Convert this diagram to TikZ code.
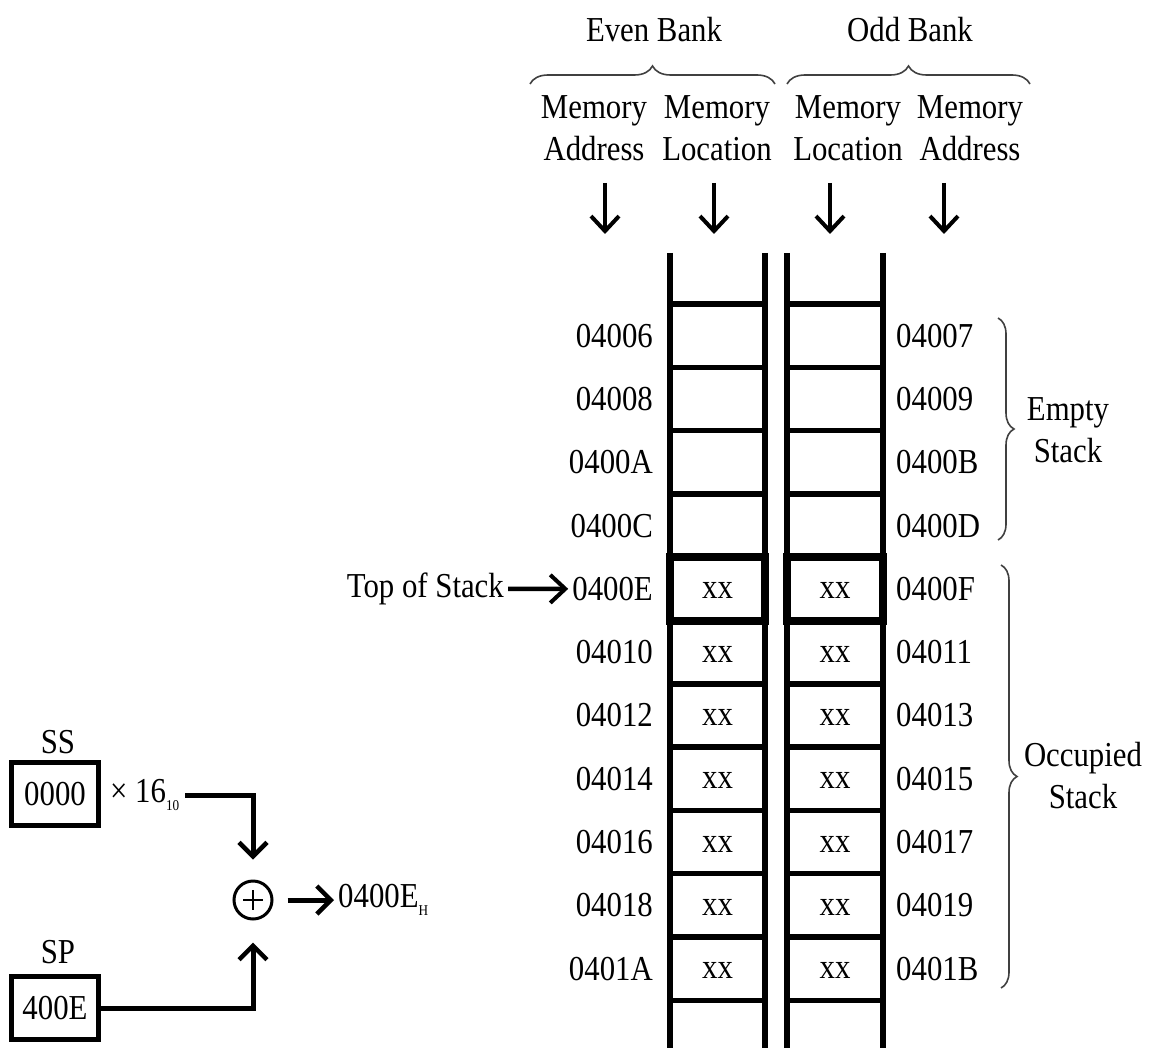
\documentclass[tikz,border=0pt]{standalone}
\usepackage{fontspec}
\setmainfont{Liberation Serif}[FakeStretch=0.88]
\usetikzlibrary{arrows.meta,decorations.pathreplacing,calc}
\begin{document}
\begin{tikzpicture}[x=1pt,y=-1pt,
  txt/.style={font=\fontsize{35}{42}\selectfont, inner sep=0pt, align=center},
  ladder/.style={line width=5.5pt},
  hdrarr/.style={line width=4.5pt, -{Straight Barb[length=15pt,width=28pt,line width=4pt]}},
  conn/.style={line width=5pt, -{Straight Barb[length=14pt,width=28pt,line width=4.5pt]}},
  brc/.style={decorate, decoration={brace, amplitude=18pt}, line width=1.6pt, draw=black!75},
  sub/.style={},
  regbox/.style={draw, line width=5pt, minimum width=87pt, minimum height=63pt, inner sep=0pt, font=\fontsize{35}{38}\selectfont}
]
\useasboundingbox (0,0) rectangle (1174,1048);

% headers
\node[txt] (even) at (654,30) {Even Bank};
\node[txt] (odd) at (910,30) {Odd Bank};
\draw[brc] (530,84) -- (775,84);
\draw[brc] (787,84) -- (1030,84);
\node[txt] (h1) at (594,128) {Memory\\Address};
\node[txt] (h2) at (717,128) {Memory\\Location};
\node[txt] (h3) at (848,128) {Memory\\Location};
\node[txt] (h4) at (970,128) {Memory\\Address};

\foreach \n/\x in {1/605,2/714,3/830,4/944}{
  \coordinate (as\n) at (\x,183);
  \coordinate (ae\n) at (\x,234);
  \draw[hdrarr] (as\n) -- (ae\n);
}

% ladder
\foreach \x in {670,765,787,883}{
  \draw[ladder] (\x,253) -- (\x,1050);
}
\foreach \k in {0,...,11}{
  \pgfmathsetmacro{\yy}{304+63.3*\k}
  \draw[ladder] (670,\yy) -- (765,\yy);
  \draw[ladder] (787,\yy) -- (883,\yy);
}
% highlighted top-of-stack cells
\draw[line width=8pt] (670,557.2) rectangle (765,620.5);
\draw[line width=8pt] (787,557.2) rectangle (883,620.5);

% address labels and cells
\foreach \k/\la/\ra/\c in {0/04006/04007/,1/04008/04009/,2/0400A/0400B/,3/0400C/0400D/,
  4/0400E/0400F/xx,5/04010/04011/xx,6/04012/04013/xx,7/04014/04015/xx,
  8/04016/04017/xx,9/04018/04019/xx,10/0401A/0401B/xx}{
  \pgfmathsetmacro{\yc}{304+63.3*(\k+0.5)}
  \node[txt, anchor=east] (l\k) at (653,\yc) {\la};
  \node[txt, anchor=west] (r\k) at (896,\yc) {\ra};
  \node[txt] (cl\k) at (717.5,\yc+2) {\c};
  \node[txt] (cr\k) at (835,\yc+2) {\c};
}

% top of stack
\node[txt, anchor=east] (tos) at (504,588.9) {Top of Stack};
\draw[hdrarr, shorten <=4pt, shorten >=4pt] (tos.east) -- (l4.west);

% right braces
\draw[brc, decoration={amplitude=16pt}] (998,318) -- (998,540);
\node[txt] (empty) at (1068,430) {Empty\\Stack};
\draw[brc, decoration={amplitude=16pt}] (1001,565) -- (1001,988);
\node[txt] (occ) at (1083,776) {Occupied\\Stack};

% address computation
\node[txt] (sslbl) at (58,742) {SS};
\node[regbox] (ss) at (55,794) {0000};
\node[txt, anchor=west] (mul) at (110,795) {× 16\raisebox{-8pt}{\fontsize{15}{15}\selectfont 10}};
\node[draw, circle, line width=3pt, minimum size=38pt, inner sep=0pt] (plus) at (253,900) {};
\draw[line width=1.5pt] ($(plus.center)+(-10,0)$) -- ($(plus.center)+(10,0)$);
\draw[line width=1.5pt] ($(plus.center)+(0,-10)$) -- ($(plus.center)+(0,10)$);
\node[txt, anchor=west] (res) at (338,900) {0400E\raisebox{-8pt}{\fontsize{15}{15}\selectfont H}};
\node[txt] (splbl) at (58,952) {SP};
\node[regbox] (sp) at (55,1008) {400E};

\draw[conn, shorten <=6pt, shorten >=20pt] (mul.east) -| (plus.north);
\draw[conn, shorten >=22pt] (sp.east) -| (plus.south);
\draw[conn, shorten <=14pt, shorten >=4pt] (plus.east) -- (res.west);
\end{tikzpicture}
\end{document}
